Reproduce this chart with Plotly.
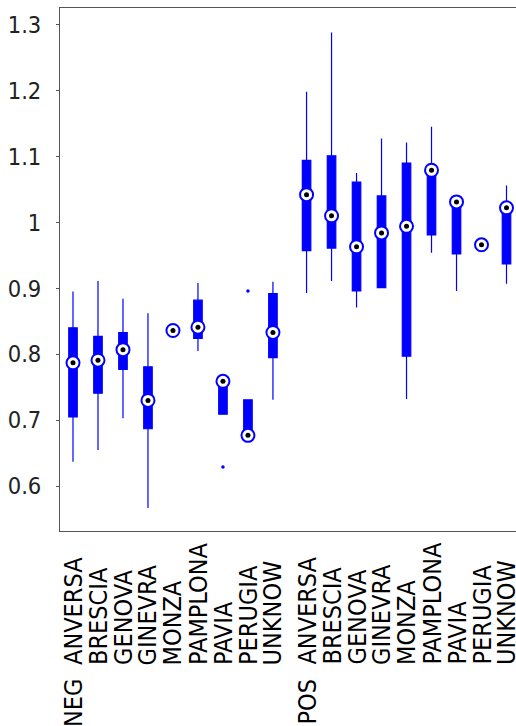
import plotly.graph_objects as go

groups = ["NEG", "POS"]
cities = ["ANVERSA", "BRESCIA", "GENOVA", "GINEVRA", "MONZA",
          "PAMPLONA", "PAVIA", "PERUGIA", "UNKNOW"]

neg_lower  = [0.637, 0.655, 0.703, 0.567, 0.836, 0.805, 0.709, 0.677, 0.731]
neg_q1     = [0.705, 0.741, 0.777, 0.687, 0.836, 0.824, 0.709, 0.677, 0.795]
neg_median = [0.787, 0.791, 0.807, 0.730, 0.836, 0.841, 0.759, 0.677, 0.833]
neg_q3     = [0.840, 0.827, 0.833, 0.781, 0.836, 0.882, 0.759, 0.731, 0.892]
neg_upper  = [0.895, 0.911, 0.884, 0.862, 0.836, 0.908, 0.759, 0.731, 0.910]

pos_lower  = [0.893, 0.911, 0.871, 0.901, 0.732, 0.954, 0.896, 0.966, 0.907]
pos_q1     = [0.957, 0.961, 0.896, 0.901, 0.797, 0.981, 0.952, 0.966, 0.937]
pos_median = [1.042, 1.010, 0.963, 0.984, 0.994, 1.079, 1.031, 0.966, 1.022]
pos_q3     = [1.094, 1.101, 1.061, 1.040, 1.090, 1.079, 1.031, 0.966, 1.025]
pos_upper  = [1.198, 1.288, 1.075, 1.127, 1.121, 1.145, 1.031, 0.966, 1.056]

# outliers: group index, city, value
outlier_group = [0, 0]
outlier_city = ["PAVIA", "PERUGIA"]
outlier_value = [0.629, 0.896]

y_ticks = [0.6, 0.7, 0.8, 0.9, 1.0, 1.1, 1.2, 1.3]
y_ticktext = ["0.6", "0.7", "0.8", "0.9", "1", "1.1", "1.2", "1.3"]

# ---- positions (MATLAB-like factor gap between groups) ----
GAP = 0.345
n = len(cities)
positions = []
for g in range(len(groups)):
    for i in range(n):
        positions.append(1 + i + g * (n + GAP))

lower = neg_lower + pos_lower
q1 = neg_q1 + pos_q1
median = neg_median + pos_median
q3 = neg_q3 + pos_q3
upper = neg_upper + pos_upper

BLUE = "#0000ff"
fig = go.Figure()

fig.add_trace(go.Box(
    x=positions, q1=q1, median=median, q3=q3,
    lowerfence=lower, upperfence=upper,
    width=0.34, whiskerwidth=0,
    fillcolor=BLUE, line=dict(color=BLUE, width=1.2),
    boxpoints=False, showlegend=False, hoverinfo="skip",
))

ox = [positions[g * n + cities.index(c)] for g, c in zip(outlier_group, outlier_city)]
fig.add_trace(go.Scatter(
    x=ox, y=outlier_value, mode="markers",
    marker=dict(color=BLUE, size=3.5), showlegend=False, hoverinfo="skip",
))

fig.add_trace(go.Scatter(
    x=positions, y=median, mode="markers",
    marker=dict(symbol="circle", size=13, color="white",
                line=dict(color=BLUE, width=2)),
    showlegend=False, hoverinfo="skip",
))
fig.add_trace(go.Scatter(
    x=positions, y=median, mode="markers",
    marker=dict(symbol="circle", size=5, color="black"),
    showlegend=False, hoverinfo="skip",
))

# ---- x labels (rotated, bottom-aligned), group label below first city ----
FONT = "DejaVu Sans Condensed, DejaVu Sans"
annotations = []
plot_h = 726 - 8 - 195
for g, grp in enumerate(groups):
    for i, c in enumerate(cities):
        annotations.append(dict(
            x=positions[g * n + i], y=-(667 - 531) / plot_h,
            xref="x", yref="paper", text=c, showarrow=False,
            textangle=-90, xanchor="center", yanchor="bottom",
            font=dict(family=FONT, size=25, color="black"),
        ))
    annotations.append(dict(
        x=positions[g * n], y=-(677 - 531) / plot_h,
        xref="x", yref="paper", text=grp, showarrow=False,
        textangle=-90, xanchor="center", yanchor="top",
        font=dict(family=FONT, size=25, color="black"),
    ))

fig.update_layout(
    width=516, height=726,
    margin=dict(l=60, r=0, t=8, b=195),
    plot_bgcolor="white", paper_bgcolor="white",
    annotations=annotations,
    font=dict(family=FONT, color="black"),
)
fig.update_xaxes(
    range=[0.48, 18.725], showgrid=False, zeroline=False,
    showticklabels=False, ticks="", automargin=False,
    showline=True, linecolor="#555555", linewidth=1, mirror=True,
)
fig.update_yaxes(
    range=[0.532, 1.325], showgrid=False, zeroline=False,
    tickvals=y_ticks, ticktext=y_ticktext, automargin=False,
    ticks="outside", ticklen=3, tickcolor="#555555",
    tickfont=dict(family=FONT, size=23.5, color="#222222"),
    ticklabelstandoff=10,
    showline=True, linecolor="#555555", linewidth=1,
)

fig.write_html(
    "out.html",
    config={"displayModeBar": False},
    post_script="document.body.style.margin='0';document.body.style.overflow='hidden';",
)
